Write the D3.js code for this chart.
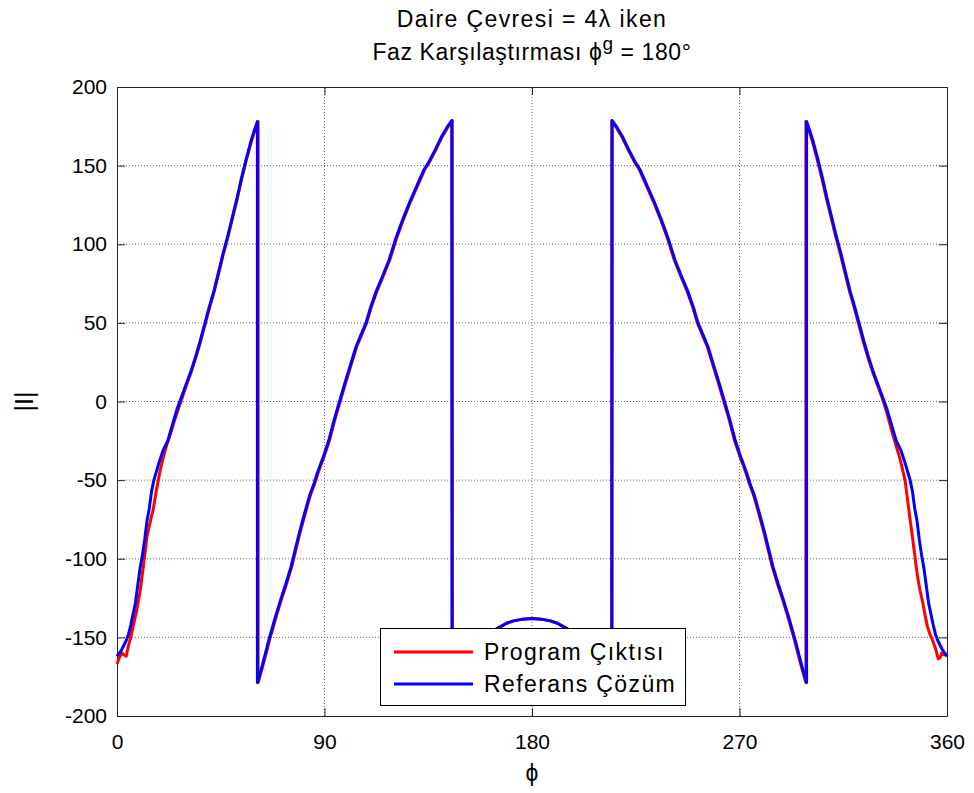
<!DOCTYPE html>
<html>
<head>
<meta charset="utf-8">
<script src="https://cdn.jsdelivr.net/npm/d3@7"></script>
<style>
  body { margin: 0; background: #fff; }
  svg text { font-family: "Liberation Sans", Arial, Helvetica, sans-serif; fill: #000; }
</style>
</head>
<body>
<svg id="chart" width="974" height="793"></svg>
<script>
// Phase of the field pattern versus azimuth angle (degrees)
const xTicks = [0, 90, 180, 270, 360];
const yTicks = [-200, -150, -100, -50, 0, 50, 100, 150, 200];
const seriesNames = ["Program Çıktısı", "Referans Çözüm"];
const seriesColors = ["#ff0000", "#0000ff"];

// Reference solution: angle (deg) and phase (deg)
const refPhi = [
  0, 2, 4, 5, 6, 7, 8, 9, 10, 11, 12, 13, 14, 15, 16, 18, 20, 22, 24, 26, 28, 30, 32, 34, 36, 38, 40,
  42, 44, 46, 48, 50, 52, 54, 56, 58, 59.5, 60.9,
  60.9, 63, 66, 68.5, 71, 73, 75.5, 79, 81, 83.5, 85.5, 87, 90, 92, 94.3, 96.5, 98.7, 101, 103.7, 106,
  108, 110, 112.4, 115, 118, 121, 124, 127, 130, 133, 135.5, 138, 140.6, 143, 145.2,
  145.3, 148, 151, 154, 157, 160, 163, 166, 169, 172, 176, 180, 184, 188, 191, 194, 197, 200, 203, 206,
  209, 212, 214.7,
  214.8, 217, 219.4, 222, 224.5, 227, 230, 233, 236, 239, 242, 245, 247.6, 250, 252, 254, 256.3, 259,
  261.3, 263.5, 265.7, 268, 270, 273, 274.5, 276.5, 279, 281, 284.5, 287, 289, 291.5, 294, 297,
  299.1,
  299.1, 300.5, 302, 304, 306, 308, 310, 312, 314, 316, 318, 320, 322, 324, 326, 328, 330, 332, 334,
  336, 338, 340, 342, 344, 345, 346, 347, 348, 349, 350, 351, 352, 353, 354, 355, 356, 358, 360
];
const refVal = [
  -162, -158, -152, -148, -142, -135, -128, -117, -106, -98, -88, -76, -68, -57, -50, -40, -31, -25, -15, -5, 3, 11, 19, 28, 38, 49, 60,
  70, 82, 94, 105, 117, 129, 142, 154, 165, 172, 178,
  -178.7, -168, -151, -138, -126, -117, -105, -84, -73, -60, -52, -45, -33, -24, -11, 0, 11, 22, 35, 43,
  50, 60, 70, 79, 90, 104, 116, 127, 137, 147, 153, 160, 168, 174, 178.7,
  -179, -173, -166, -160, -154, -149.5, -146, -143.5, -141, -139.5, -138.4, -138, -138.4, -139.5, -141, -143.5, -146, -149.5, -154, -160,
  -166, -173, -179,
  178.7, 174, 168, 160, 153, 147, 137, 127, 116, 104, 90, 79, 70, 60,
  50, 43, 35, 22, 11, 0, -11, -24, -33, -45, -52, -60, -73, -84, -105, -117, -126, -138, -151, -168,
  -178.7,
  178, 172, 165, 154, 142, 129, 117, 105, 94, 82, 70, 60, 49, 38, 28, 19, 11, 3, -5,
  -15, -25, -31, -40, -50, -57, -68, -76, -88, -98, -106, -117, -128, -135, -142, -148, -152, -158, -162
];

// Program output: angle (deg) and phase (deg)
const progPhi = [
  0, 1, 2.2, 3, 4, 5, 5.8, 7, 8.5, 10.1, 11.5, 13, 14.5, 15.8, 17, 18.7, 20, 21.5, 23.1, 25, 27, 28, 30, 32, 34, 36, 38, 40,
  42, 44, 46, 48, 50, 52, 54, 56, 58, 59.5, 61.2,
  61.2, 63.3, 66.3, 68.8, 71.3, 73.3, 75.8, 79.3, 81.3, 83.8, 85.8, 87.3, 90.3, 92.3, 94.6, 96.8, 99, 101.3, 104, 106.3,
  108.3, 110.3, 112.7, 115.3, 118.3, 121.3, 124.3, 127.3, 130.3, 133.3, 135.8, 138.3, 140.9, 143.3, 145.4,
  145.5, 148, 151, 154, 157, 160, 163, 166, 169, 172, 176, 180, 184, 188, 191, 194, 197, 200, 203, 206,
  209, 212, 214.5,
  214.6, 216.7, 219.1, 221.7, 224.2, 226.7, 229.7, 232.7, 235.7, 238.7, 241.7, 244.7, 247.3, 249.7, 251.7, 253.7, 256, 258.7,
  261, 263.2, 265.4, 267.7, 269.7, 272.7, 274.2, 276.2, 278.7, 280.7, 284.2, 286.7, 288.7, 291.2, 293.7, 296.7,
  298.8,
  298.8, 300.2, 301.7, 303.7, 305.7, 307.7, 309.7, 311.7, 313.7, 315.7, 317.7, 319.7, 321.7, 323.7, 325.7, 327.7, 329.7, 331.7, 333.7,
  335.7, 337.7, 339.7, 341.8, 343.9, 345, 346.2, 347.3, 348.3, 349.5, 350.5, 351.5, 352.6, 353.8, 355, 356.2, 357, 357.7, 358.8, 360
];
const progVal = [
  -167, -163, -160, -161, -162, -155, -151, -143, -133, -120, -104, -86, -76, -68, -57, -44, -36, -28, -21, -12, -3, 1, 10, 18, 27, 37, 48, 59,
  69, 81, 93, 104, 116, 128, 141, 153, 164, 171, 178,
  -178.7, -168, -151, -138, -126, -117, -105, -84, -73, -60, -52, -45, -33, -24, -11, 0, 11, 22, 35, 43,
  50, 60, 70, 79, 90, 104, 116, 127, 137, 147, 153, 160, 168, 174, 178.7,
  -179, -173, -166, -160, -154, -149.5, -146, -143.5, -141, -139.5, -138.4, -138, -138.4, -139.5, -141, -143.5, -146, -149.5, -154, -160,
  -166, -173, -179,
  178.7, 174, 168, 160, 153, 147, 137, 127, 116, 104, 90, 79, 70, 60,
  50, 43, 35, 22, 11, 0, -11, -24, -33, -45, -52, -60, -73, -84, -105, -117, -126, -138, -151, -168,
  -178.7,
  178, 172, 165, 154, 142, 129, 117, 105, 94, 82, 70, 60, 49, 38, 28, 19, 11, 3, -6,
  -17, -27, -37, -50, -74, -86, -100, -112, -120, -128, -136, -143, -148, -152, -157, -163.7, -163, -160, -161, -161
];

const svg = d3.select("#chart");
const margin = { left: 117, right: 27, top: 87, bottom: 77 };
const W = 974, H = 793;
const x = d3.scaleLinear().domain([0, 360]).range([margin.left, W - margin.right]);
const y = d3.scaleLinear().domain([-200, 200]).range([H - margin.bottom, margin.top]);
const plain = d => String(d);

// grid
const grid = svg.append("g");
grid.selectAll("line.gx").data(xTicks.slice(1, -1)).join("line")
  .attr("x1", d => x(d)).attr("x2", d => x(d))
  .attr("y1", y(-200)).attr("y2", y(200))
  .attr("stroke", "#666").attr("stroke-width", 1).attr("stroke-dasharray", "1,2");
grid.selectAll("line.gy").data(yTicks.slice(1, -1)).join("line")
  .attr("x1", x(0)).attr("x2", x(360))
  .attr("y1", d => y(d)).attr("y2", d => y(d))
  .attr("stroke", "#666").attr("stroke-width", 1).attr("stroke-dasharray", "1,2");

// axes (ticks point inward, box on all sides)
const tl = 8;
const axB = svg.append("g").attr("transform", `translate(0,${y(-200)})`)
  .call(d3.axisBottom(x).tickValues(xTicks).tickFormat(plain).tickSizeInner(-tl).tickSizeOuter(0).tickPadding(18));
const axT = svg.append("g").attr("transform", `translate(0,${y(200)})`)
  .call(d3.axisTop(x).tickValues(xTicks).tickSizeInner(-tl).tickSizeOuter(0).tickFormat(""));
const axL = svg.append("g").attr("transform", `translate(${x(0)},0)`)
  .call(d3.axisLeft(y).tickValues(yTicks).tickFormat(plain).tickSizeInner(-tl).tickSizeOuter(0).tickPadding(10));
const axR = svg.append("g").attr("transform", `translate(${x(360)},0)`)
  .call(d3.axisRight(y).tickValues(yTicks).tickSizeInner(-tl).tickSizeOuter(0).tickFormat(""));
[axB, axT, axL, axR].forEach(a => {
  a.select(".domain").attr("stroke", "#262626");
  a.selectAll(".tick line").attr("stroke", "#262626");
  a.selectAll("text").attr("font-size", 21).attr("font-family", "Liberation Sans, Arial, sans-serif").attr("fill", "#000");
});
axB.selectAll(".tick text").attr("dy", "0.71em");

// series
const line = d3.line().x(d => x(d[0])).y(d => y(d[1]));
const progData = progPhi.map((p, i) => [p, progVal[i]]);
const refData = refPhi.map((p, i) => [p, refVal[i]]);
svg.append("path").datum(progData).attr("d", line)
  .attr("fill", "none").attr("stroke", seriesColors[0]).attr("stroke-width", 3).attr("stroke-linejoin", "round");
svg.append("path").datum(refData).attr("d", line)
  .attr("fill", "none").attr("stroke", seriesColors[1]).attr("stroke-width", 3).attr("stroke-linejoin", "round");

// titles
const cx = x(180);
svg.append("text").attr("x", cx).attr("y", 27).attr("text-anchor", "middle").attr("font-size", 23)
  .attr("letter-spacing", 1.4).text("Daire Çevresi = 4λ iken");
const t2 = svg.append("text").attr("x", cx).attr("y", 60).attr("text-anchor", "middle").attr("font-size", 23)
  .attr("letter-spacing", 0.6);
t2.append("tspan").text("Faz Karşılaştırması ϕ");
t2.append("tspan").attr("dy", -10).attr("font-size", 19).text("g");
t2.append("tspan").attr("dy", 10).text(" = 180°");

svg.append("text").attr("x", cx).attr("y", 781).attr("text-anchor", "middle").attr("font-size", 23).text("ϕ");
svg.append("text").attr("transform", `translate(33,${y(0)}) rotate(-90)`).attr("text-anchor", "middle")
  .attr("font-size", 25).text("|I|");

// legend
const lg = svg.append("g");
lg.append("rect").attr("x", 380.5).attr("y", 628.5).attr("width", 305).attr("height", 77)
  .attr("fill", "#fff").attr("stroke", "#000").attr("stroke-width", 1);
seriesNames.forEach((name, i) => {
  const ly = 652 + i * 32;
  lg.append("line").attr("x1", 394).attr("x2", 473).attr("y1", ly).attr("y2", ly)
    .attr("stroke", seriesColors[i]).attr("stroke-width", 3);
  lg.append("text").attr("x", 484).attr("y", ly + 8).attr("font-size", 23).attr("letter-spacing", 1.4).text(name);
});
</script>
</body>
</html>
